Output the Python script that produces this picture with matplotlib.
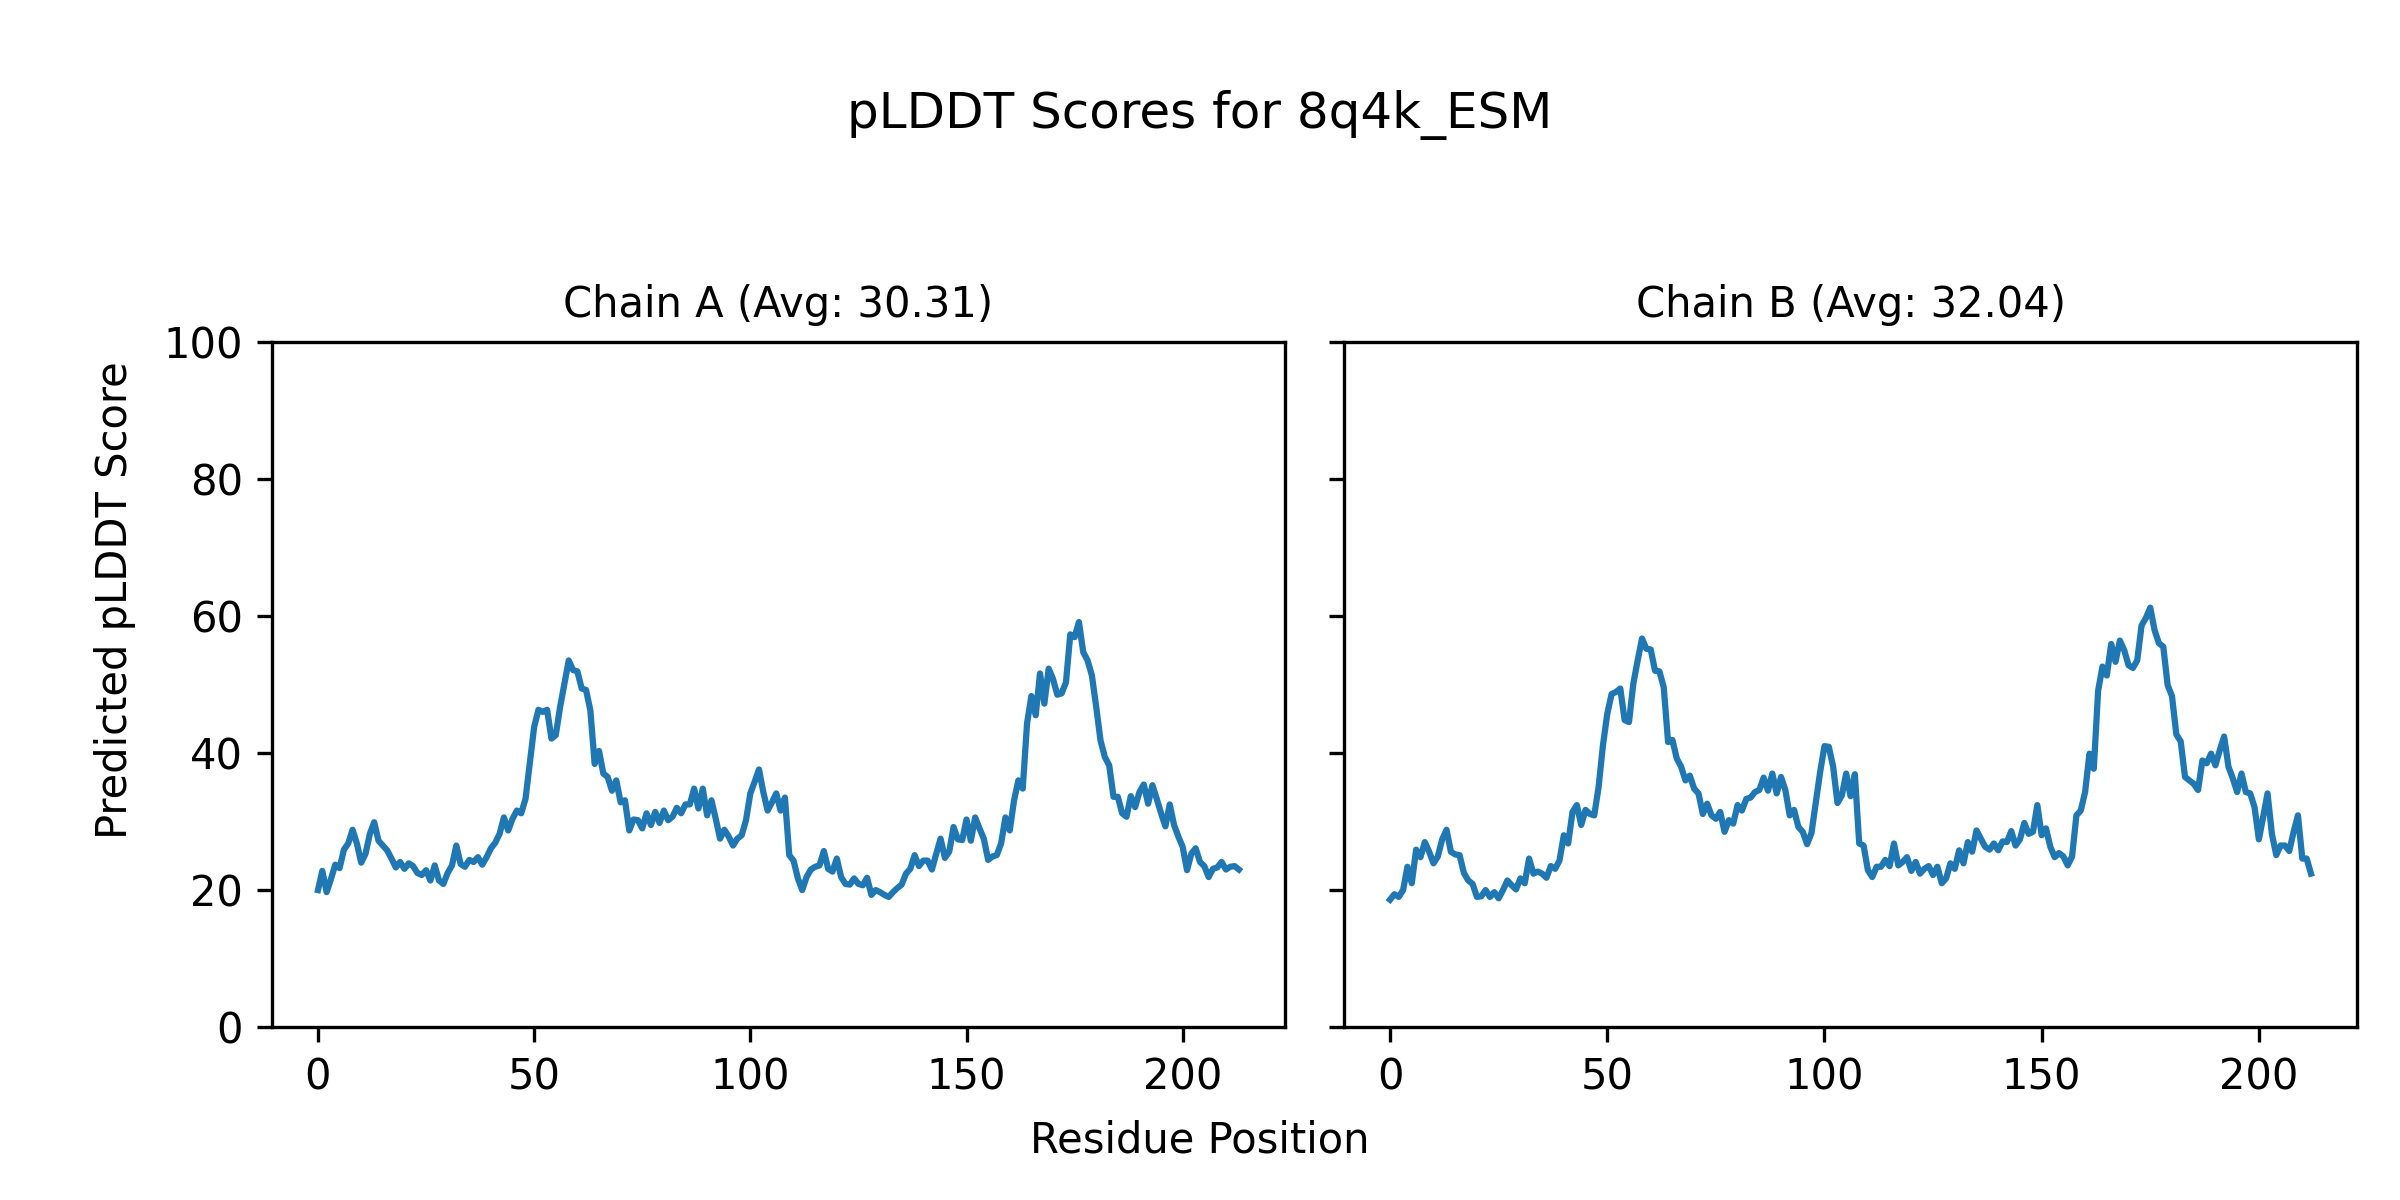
"""pLDDT plot for the ESM prediction of 8q4k"""
import numpy as np
import matplotlib
matplotlib.use("Agg")
import matplotlib.pyplot as plt

name = "8q4k_ESM"
chains = ["A", "B"]
averages = [30.31, 32.04]

# per-residue pLDDT, chain A
plddt_A = [20.0, 22.8, 19.7, 21.6, 23.7, 23.2, 25.9, 26.8, 28.8, 26.8,
           24.0, 25.3, 28.2, 29.9, 27.2, 26.5, 25.8, 24.6, 23.3, 24.1,
           23.1, 23.9, 23.5, 22.5, 22.2, 22.9, 21.4, 23.6, 21.4, 20.9,
           22.5, 23.6, 26.5, 23.8, 23.4, 24.4, 24.1, 24.8, 23.7, 24.8,
           26.1, 26.9, 28.2, 30.6, 28.7, 30.4, 31.6, 31.2, 33.3, 38.5,
           43.8, 46.3, 46.0, 46.3, 42.1, 42.6, 46.7, 50.1, 53.5, 52.1,
           51.9, 49.4, 49.2, 46.2, 38.4, 40.3, 37.0, 36.5, 34.5, 36.0,
           32.8, 33.1, 28.7, 30.3, 30.2, 29.0, 31.2, 29.5, 31.4, 29.8,
           31.6, 30.2, 30.7, 32.0, 31.2, 32.5, 32.5, 34.8, 31.9, 34.8,
           30.9, 33.1, 30.4, 27.5, 28.8, 27.8, 26.5, 27.5, 28.0, 30.2,
           34.1, 35.8, 37.6, 34.3, 31.6, 32.8, 34.1, 31.6, 33.5, 25.1,
           24.3, 21.7, 20.0, 21.9, 23.0, 23.4, 23.6, 25.7, 23.1, 22.7,
           24.6, 21.9, 20.9, 20.8, 21.7, 20.9, 20.7, 21.8, 19.3, 20.0,
           19.7, 19.3, 19.0, 19.7, 20.3, 20.8, 22.4, 23.1, 25.1, 23.5,
           24.3, 24.3, 23.0, 25.3, 27.5, 24.7, 25.6, 29.2, 27.4, 27.3,
           30.3, 27.2, 30.6, 29.0, 27.5, 24.4, 24.9, 25.1, 26.8, 30.6,
           28.7, 33.1, 36.0, 34.8, 44.3, 48.3, 45.5, 51.6, 47.2, 52.3,
           50.8, 48.5, 48.7, 50.3, 57.3, 56.9, 59.1, 54.7, 53.5, 51.3,
           46.7, 41.8, 39.4, 38.2, 33.6, 33.6, 31.2, 30.7, 33.7, 32.1,
           34.3, 35.4, 32.6, 35.3, 33.3, 31.2, 29.3, 32.5, 29.5, 27.8,
           26.3, 22.9, 25.3, 26.1, 24.1, 23.5, 21.9, 23.1, 23.3, 24.1,
           23.0, 23.4, 23.5, 23.0]

# per-residue pLDDT, chain B
plddt_B = [18.6, 19.4, 19.0, 20.0, 23.4, 21.0, 25.9, 24.8, 27.0, 25.6,
           23.9, 24.9, 27.4, 28.8, 25.6, 25.2, 25.1, 22.5, 21.4, 20.9,
           19.0, 19.1, 20.0, 19.0, 19.7, 18.8, 20.0, 21.4, 20.7, 20.1,
           21.7, 21.0, 24.6, 22.4, 22.7, 22.4, 21.8, 23.5, 23.1, 24.3,
           28.0, 26.8, 31.4, 32.4, 29.5, 31.7, 31.1, 30.9, 35.0, 41.1,
           45.7, 48.6, 48.9, 49.4, 44.8, 44.5, 50.1, 53.5, 56.7, 55.2,
           55.1, 52.0, 51.9, 49.6, 41.6, 41.9, 39.2, 38.0, 36.0, 36.7,
           34.8, 34.1, 31.1, 32.6, 30.9, 30.4, 31.4, 28.5, 30.2, 29.7,
           32.4, 31.6, 33.3, 33.5, 34.3, 34.6, 36.4, 34.5, 37.0, 34.1,
           36.5, 34.6, 30.9, 31.7, 29.2, 28.5, 26.7, 28.3, 32.7, 37.2,
           41.0, 40.9, 38.0, 32.7, 33.8, 37.0, 33.7, 36.9, 26.8, 26.5,
           22.9, 21.9, 23.4, 23.4, 24.4, 23.5, 26.8, 23.6, 24.1, 24.8,
           22.8, 24.1, 22.4, 23.1, 23.5, 22.2, 23.4, 21.0, 21.7, 23.9,
           23.1, 25.8, 23.9, 27.0, 25.6, 28.7, 27.5, 26.3, 25.9, 26.8,
           25.8, 27.1, 27.0, 28.6, 26.5, 27.4, 29.8, 28.2, 28.5, 32.4,
           28.0, 29.0, 26.3, 24.8, 25.4, 24.9, 23.6, 24.9, 30.9, 31.6,
           34.3, 39.9, 37.7, 49.1, 52.6, 51.3, 55.9, 53.3, 56.4, 55.0,
           52.8, 52.4, 53.5, 58.6, 59.7, 61.2, 57.9, 56.0, 55.5, 49.9,
           48.3, 42.7, 41.7, 36.5, 36.0, 35.5, 34.6, 38.9, 38.5, 39.9,
           38.2, 40.4, 42.4, 38.0, 36.3, 34.3, 37.0, 34.3, 34.1, 32.1,
           27.4, 30.7, 34.1, 28.2, 25.1, 26.5, 26.5, 25.7, 28.5, 30.9,
           24.6, 24.6, 22.4]


def main():
    data = [plddt_A, plddt_B]
    fig, axes = plt.subplots(1, 2, figsize=(8, 4), sharey=True)
    for ax, ch, avg, scores in zip(axes, chains, averages, data):
        pos = np.arange(len(scores))
        ax.plot(pos, scores)
        ax.set_title(f"Chain {ch} (Avg: {avg:.2f})", fontsize=10)
        ax.set_ylim(0, 100)
    fig.suptitle(f"pLDDT Scores for {name}", y=0.925, fontsize=12)
    fig.supxlabel("Residue Position", y=0.032, fontsize=10)
    fig.supylabel("Predicted pLDDT Score", x=0.039, fontsize=10)
    fig.subplots_adjust(left=0.1133, right=0.9821, bottom=0.144, top=0.7153,
                        wspace=0.0583)
    fig.savefig("out.png", dpi=300)


main()
